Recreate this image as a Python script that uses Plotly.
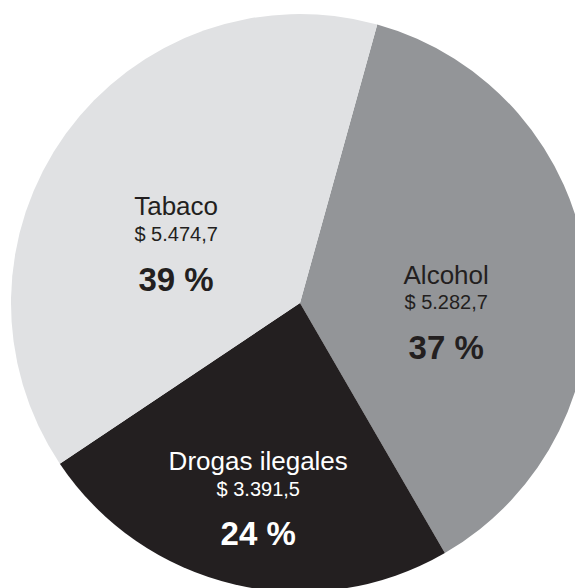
import plotly.graph_objects as go

# Data
categories = ["Alcohol", "Drogas ilegales", "Tabaco"]
amounts = [5282.7, 3391.5, 5474.7]
amount_labels = ["$ 5.282,7", "$ 3.391,5", "$ 5.474,7"]
percent_labels = ["37 %", "24 %", "39 %"]

slice_colors = ["#939598", "#231f20", "#e0e1e3"]
text_colors = ["#231f20", "#ffffff", "#231f20"]

W, H = 600, 640
R = 289
# pie centre in figure pixels (page body adds an 8px offset)
CX, CY = 292, 295
# labels are drawn by an identical, transparent pie shifted slightly down
TX, TY = -3, 29


def dom(cx, cy, r):
    return dict(x=[(cx - r) / W, (cx + r) / W], y=[1 - (cy + r) / H, 1 - (cy - r) / H])


texts = [
    f"<span style='font-size:26px'>{c}</span><br>"
    f"<sup><span style='font-size:20px'>{a}</span></sup><br>"
    f"<b><span style='font-size:33px'>{p}</span></b>"
    for c, a, p in zip(categories, amount_labels, percent_labels)
]

common = dict(
    labels=categories,
    values=amounts,
    sort=False,
    direction="clockwise",
    rotation=15.5,
)

fig = go.Figure()
fig.add_trace(
    go.Pie(
        **common,
        textinfo="none",
        textposition="none",
        marker=dict(colors=slice_colors, line=dict(width=0)),
        hoverinfo="label+value+percent",
        domain=dom(CX, CY, R),
    )
)
fig.add_trace(
    go.Pie(
        **common,
        text=texts,
        textinfo="text",
        texttemplate="%{text}",
        textposition="inside",
        insidetextorientation="horizontal",
        marker=dict(colors=["rgba(0,0,0,0)"] * 3, line=dict(width=0)),
        textfont=dict(family="Liberation Sans, Arial, sans-serif", size=29, color=text_colors),
        hoverinfo="skip",
        domain=dom(CX + TX, CY + TY, R),
    )
)

fig.update_layout(
    width=W,
    height=H,
    margin=dict(l=0, r=0, t=0, b=0),
    paper_bgcolor="white",
    plot_bgcolor="white",
    showlegend=False,
)

fig.write_html("out.html")
